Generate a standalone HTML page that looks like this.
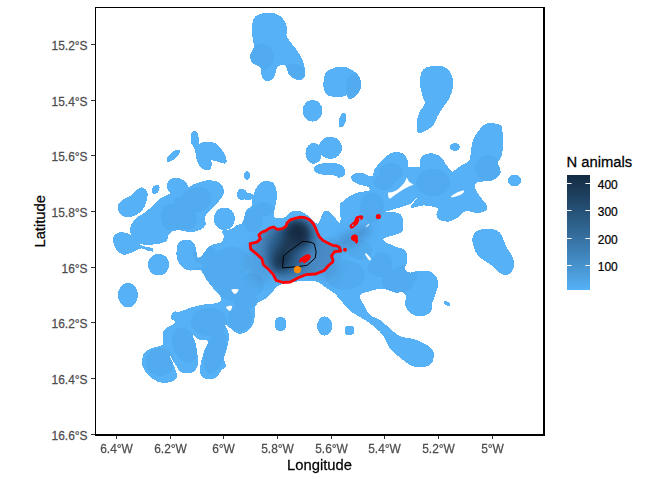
<!DOCTYPE html>
<html><head><meta charset="utf-8"><style>
html,body{margin:0;padding:0;background:#fff;overflow:hidden;}
svg{display:block;}
text{font-family:"Liberation Sans",sans-serif;}
</style></head><body>
<svg width="672" height="480" viewBox="0 0 672 480">
<defs>
<linearGradient id="lg" x1="0" y1="0" x2="0" y2="1"><stop offset="0" stop-color="#132B43"/><stop offset="0.125" stop-color="#1B3A57"/><stop offset="0.25" stop-color="#22496C"/><stop offset="0.375" stop-color="#2A5A82"/><stop offset="0.5" stop-color="#336A98"/><stop offset="0.625" stop-color="#3B7BAF"/><stop offset="0.75" stop-color="#448DC6"/><stop offset="0.875" stop-color="#4D9FDE"/><stop offset="1" stop-color="#56B1F7"/></linearGradient>
</defs>
<rect width="672" height="480" fill="#fff"/>
<clipPath id="blobclip"><path d="M268.8,12.5C272.7,12.5 277.2,13.8 280.0,15.8C282.8,17.8 284.3,21.0 285.5,24.5C286.7,28.0 285.8,33.7 287.0,37.0C288.2,40.3 290.5,41.8 292.5,44.5C294.5,47.2 296.9,50.1 298.8,53.2C300.6,56.4 302.7,59.7 303.8,63.2C304.8,66.8 305.2,71.8 305.0,74.5C304.8,77.2 304.0,78.7 302.5,79.5C301.0,80.3 298.5,80.3 296.2,79.5C294.0,78.7 290.4,76.6 288.8,74.5C287.1,72.4 287.3,68.6 286.2,67.0C285.2,65.4 284.0,65.0 282.5,65.0C281.0,65.0 278.8,65.4 277.5,67.0C276.2,68.6 275.8,72.4 275.0,74.5C274.2,76.6 274.2,78.5 272.5,79.5C270.8,80.5 266.9,81.6 265.0,80.8C263.1,79.9 262.1,76.8 261.2,74.5C260.4,72.2 261.5,68.9 260.0,67.0C258.5,65.1 254.2,65.1 252.5,63.2C250.8,61.4 249.8,58.5 250.0,55.8C250.2,53.0 253.3,50.1 253.8,47.0C254.2,43.9 252.8,40.8 252.5,37.0C252.2,33.2 251.4,28.0 252.0,24.5C252.6,21.0 253.5,17.8 256.2,15.8C259.0,13.8 264.8,12.5 268.8,12.5Z"/><path d="M340.0,67.0C336.7,67.5 330.2,68.7 327.5,70.8C324.8,72.8 324.4,76.4 323.8,79.5C323.1,82.6 322.9,86.8 323.8,89.5C324.6,92.2 326.5,94.6 328.8,95.8C331.0,96.9 334.6,96.7 337.5,96.5C340.4,96.3 344.4,94.0 346.2,94.5C348.1,95.0 347.1,99.3 348.8,99.5C350.4,99.7 354.2,97.8 356.2,95.8C358.3,93.7 360.6,89.9 361.2,87.0C361.9,84.1 361.0,80.8 360.0,78.2C359.0,75.8 357.1,73.8 355.0,72.0C352.9,70.2 350.0,68.6 347.5,67.8C345.0,66.9 343.3,66.5 340.0,67.0Z"/><path d="M435.4,66.0C437.8,65.8 438.8,65.6 440.7,66.0C442.6,66.4 445.1,66.9 446.9,68.3C448.7,69.7 450.4,72.0 451.4,74.5C452.4,77.0 453.1,80.2 453.1,83.3C453.1,86.4 452.3,90.1 451.4,93.1C450.5,96.0 449.3,98.5 447.8,101.0C446.3,103.5 444.3,105.4 442.5,108.1C440.7,110.8 438.8,114.0 437.2,117.0C435.6,120.0 435.2,123.3 432.8,125.8C430.4,128.3 425.5,131.0 423.0,132.0C420.5,133.0 418.7,133.6 417.7,132.0C416.7,130.4 416.5,125.7 416.8,122.3C417.1,118.9 418.2,114.8 419.5,111.7C420.8,108.6 424.4,106.5 424.8,103.7C425.2,100.9 422.9,98.2 422.1,94.8C421.3,91.4 419.9,87.0 419.8,83.3C419.7,79.6 420.1,75.3 421.2,72.7C422.4,70.1 424.2,68.5 426.6,67.4C429.0,66.3 433.0,66.2 435.4,66.0Z"/><path d="M316.9,165.0C318.5,164.3 320.7,163.4 323.8,163.1C326.8,162.8 332.1,162.8 335.0,163.1C337.9,163.4 339.7,164.2 341.2,165.0C342.8,165.8 343.8,166.6 344.4,168.1C345.0,169.6 345.3,172.3 345.0,173.8C344.7,175.2 343.6,176.3 342.5,176.9C341.4,177.5 339.4,177.7 338.1,177.5C336.9,177.3 337.2,176.0 335.0,175.6C332.8,175.2 328.0,175.4 325.0,175.0C322.0,174.6 318.7,173.8 316.9,173.1C315.1,172.4 314.4,171.5 314.0,170.6C313.6,169.7 313.9,168.4 314.4,167.5C314.9,166.6 315.3,165.7 316.9,165.0Z"/><path d="M194.5,131.0C195.4,131.1 196.8,131.5 197.5,132.7C198.2,133.9 198.5,136.0 198.7,138.1C198.9,140.2 198.7,145.2 198.7,145.2C198.7,145.2 199.6,143.1 201.1,142.6C202.6,142.1 205.3,141.9 207.6,142.0C209.9,142.1 212.7,142.0 214.8,142.9C216.9,143.8 218.5,145.8 220.1,147.6C221.7,149.4 223.2,151.4 224.3,153.6C225.4,155.8 226.6,159.0 226.7,160.7C226.8,162.4 226.3,163.5 224.9,163.7C223.5,163.9 220.6,162.5 218.3,161.9C216.0,161.3 211.2,160.1 211.2,160.1C211.2,160.1 212.1,163.8 211.8,165.5C211.5,167.2 210.7,169.5 209.4,170.2C208.1,170.9 205.7,170.4 204.0,169.6C202.3,168.8 200.6,167.4 199.3,165.5C198.0,163.6 197.0,160.9 196.3,158.3C195.6,155.7 195.9,152.5 195.1,150.0C194.3,147.5 192.2,145.9 191.5,143.5C190.8,141.1 191.1,137.6 191.2,135.7C191.3,133.8 191.5,132.9 192.1,132.1C192.7,131.3 193.6,130.9 194.5,131.0Z"/><path d="M142.5,187.5C144.2,188.0 146.9,190.0 147.5,192.5C148.1,195.0 147.1,199.6 146.2,202.5C145.4,205.4 144.4,207.8 142.5,210.0C140.6,212.2 137.9,214.3 135.0,215.5C132.1,216.7 127.7,217.5 125.0,217.0C122.3,216.5 119.9,214.5 118.8,212.5C117.6,210.5 117.4,207.1 118.0,205.0C118.6,202.9 120.5,201.5 122.5,200.0C124.5,198.5 127.5,198.0 130.0,196.2C132.5,194.5 135.4,191.0 137.5,189.5C139.6,188.0 140.8,187.0 142.5,187.5Z"/><path d="M144.7,245.0C147.8,245.3 153.3,244.6 156.9,244.0C160.5,243.4 164.3,243.0 166.3,241.3C168.3,239.6 167.2,235.6 169.1,233.8C171.0,231.9 174.2,230.3 177.5,230.0C180.8,229.7 185.0,232.0 188.8,232.0C192.5,232.0 197.2,231.3 200.0,230.0C202.8,228.7 204.9,226.6 205.7,224.4C206.5,222.2 203.5,219.7 204.8,216.9C206.0,214.1 210.2,210.9 213.2,207.5C216.2,204.1 220.9,199.4 222.6,196.2C224.3,193.1 224.1,191.1 223.5,188.8C222.9,186.4 221.5,183.6 218.8,182.2C216.2,180.8 211.7,180.0 207.6,180.3C203.5,180.6 197.5,182.9 194.4,184.0C191.3,185.1 190.3,187.4 188.8,186.9C187.2,186.4 187.2,182.8 185.0,181.2C182.8,179.7 178.4,177.5 175.6,177.5C172.8,177.5 169.6,179.4 168.2,181.2C166.8,183.1 166.9,186.7 167.2,188.8C167.5,190.8 171.1,191.8 170.0,193.4C168.9,195.0 163.4,196.1 160.6,198.1C157.8,200.1 155.9,203.1 153.1,205.6C150.3,208.1 146.9,210.8 143.8,213.1C140.6,215.4 136.6,217.2 134.4,219.7C132.2,222.2 130.6,225.4 130.3,228.1C130.0,230.8 131.2,233.2 132.5,235.6C133.8,237.9 136.1,240.6 138.1,242.2C140.1,243.8 141.6,244.7 144.7,245.0Z"/><path d="M114.2,235.8C114.9,234.5 115.9,233.8 117.3,233.2C118.7,232.6 120.6,232.1 122.5,232.2C124.4,232.3 127.4,233.2 128.8,233.8C130.1,234.3 130.5,236.2 130.8,235.3C131.1,234.4 129.6,230.1 130.3,228.5C131.0,226.9 133.5,223.8 135.0,226.0C136.5,228.2 138.0,238.6 139.2,241.9C140.4,245.2 140.8,244.8 142.3,245.7C143.9,246.6 146.8,246.9 148.5,247.3C150.2,247.7 152.0,247.6 152.7,248.3C153.4,249.0 153.7,251.2 152.7,251.5C151.7,251.8 148.4,250.9 146.5,250.4C144.6,249.9 143.2,248.2 141.2,248.3C139.3,248.4 137.4,250.0 135.0,251.0C132.6,252.0 128.9,253.9 126.7,254.4C124.5,254.9 123.2,254.8 121.5,254.0C119.8,253.2 117.7,251.6 116.2,249.4C114.8,247.2 113.4,243.3 113.1,241.0C112.8,238.7 113.5,237.1 114.2,235.8Z"/><path d="M177.1,246.4C177.7,243.4 179.0,242.2 180.7,241.1C182.3,240.0 184.9,239.4 187.0,239.6C189.1,239.8 191.7,240.6 193.2,242.0C194.7,243.4 195.2,245.7 195.9,248.2C196.7,250.7 196.8,255.8 197.7,257.1C198.6,258.4 199.6,257.7 201.2,256.2C202.9,254.8 205.6,250.1 207.5,248.2C209.4,246.3 210.5,245.6 212.9,244.6C215.3,243.6 220.0,243.5 221.8,242.0C223.6,240.5 223.6,237.5 223.6,235.7C223.6,233.9 221.0,232.2 221.8,231.2C222.6,230.2 226.4,230.3 228.3,229.7C230.2,229.1 232.0,228.6 233.4,227.8C234.8,227.0 235.4,225.6 236.7,225.0C238.0,224.4 240.2,224.9 241.4,224.0C242.6,223.1 243.1,221.3 243.8,219.4C244.4,217.5 244.6,214.5 245.2,212.8C245.8,211.1 246.4,210.1 247.5,209.0C248.6,207.9 250.8,207.8 251.6,206.1C252.4,204.4 251.6,201.7 252.3,198.7C253.0,195.7 254.5,191.0 256.0,188.3C257.5,185.6 259.6,183.6 261.2,182.3C262.9,181.1 263.8,180.8 265.7,180.8C267.6,180.8 270.8,181.3 272.4,182.3C274.0,183.3 274.6,184.8 275.4,186.8C276.1,188.8 276.8,191.5 276.9,194.2C277.0,196.9 276.5,200.7 276.1,203.2C275.7,205.7 274.8,206.7 274.6,209.1C274.4,211.5 273.2,216.2 274.8,217.6C276.4,219.0 281.5,218.6 284.3,217.6C287.1,216.6 288.8,212.8 291.4,211.7C294.0,210.6 297.4,210.6 299.8,211.0C302.2,211.4 303.9,212.9 305.7,214.0C307.5,215.1 308.5,216.0 310.5,217.6C312.5,219.2 315.4,224.5 317.6,223.6C319.8,222.7 321.8,214.4 323.6,212.3C325.4,210.2 326.5,210.2 328.3,211.0C330.1,211.8 332.3,215.1 334.3,217.0C336.3,218.9 339.2,224.5 340.2,222.4C341.2,220.3 339.8,208.0 340.2,204.5C340.6,201.0 341.5,202.6 342.6,201.5C343.7,200.4 344.4,199.5 346.8,198.0C349.2,196.5 353.5,193.9 357.2,192.7C360.9,191.4 367.4,191.5 369.1,190.5C370.8,189.5 369.6,187.9 367.6,186.8C365.6,185.7 359.8,184.9 357.2,183.8C354.6,182.7 353.0,181.3 352.0,180.1C351.0,178.9 350.6,177.6 351.2,176.4C351.9,175.2 353.7,173.6 355.7,173.1C357.7,172.6 360.5,172.8 363.2,173.4C365.9,174.0 370.2,177.0 372.1,176.4C374.0,175.8 373.0,172.0 374.3,169.7C375.6,167.4 377.9,164.7 380.0,162.4C382.1,160.1 384.5,157.4 386.7,155.7C388.9,154.0 391.2,152.9 393.4,152.4C395.6,151.9 398.0,151.9 400.0,152.4C402.0,152.9 404.0,154.0 405.4,155.7C406.8,157.4 407.5,160.5 408.1,162.4C408.7,164.3 407.7,166.3 408.8,167.1C409.9,167.9 412.9,167.2 414.8,167.1C416.7,167.0 419.3,167.6 420.2,166.4C421.1,165.2 419.8,161.5 420.2,159.7C420.6,157.9 421.2,156.8 422.8,155.7C424.4,154.6 427.3,153.5 429.5,153.3C431.7,153.1 434.2,153.7 436.2,154.4C438.2,155.1 440.0,156.1 441.6,157.7C443.2,159.2 444.3,161.8 445.6,163.7C446.9,165.6 448.5,167.8 449.6,169.1C450.7,170.4 451.0,172.0 452.3,171.8C453.6,171.6 455.6,169.2 457.6,167.8C459.6,166.5 462.3,165.0 464.3,163.7C466.3,162.4 468.4,162.2 469.5,160.0C470.6,157.8 470.5,153.7 471.0,150.7C471.5,147.7 471.5,144.8 472.5,141.8C473.5,138.8 475.0,135.8 477.0,132.9C479.0,130.1 482.2,126.3 484.4,124.7C486.6,123.1 487.8,123.2 490.4,123.2C493.0,123.2 498.0,123.6 500.0,124.7C502.0,125.8 501.8,125.8 502.3,129.9C502.8,134.0 503.4,144.2 503.0,149.2C502.6,154.1 500.9,157.4 500.0,159.6C499.1,161.8 497.7,160.4 497.8,162.6C497.9,164.8 501.2,169.6 500.5,172.5C499.8,175.4 495.9,178.5 493.5,180.0C491.1,181.5 488.7,180.8 486.0,181.2C483.3,181.7 479.1,181.5 477.2,182.5C475.4,183.5 474.3,185.2 474.8,187.5C475.2,189.8 477.9,193.5 479.8,196.2C481.6,199.0 484.8,201.7 486.0,203.8C487.2,205.8 487.8,207.4 487.2,208.8C486.7,210.1 484.8,211.2 482.9,211.9C481.0,212.6 478.5,213.3 475.7,213.1C472.9,212.9 469.0,210.1 466.2,210.7C463.4,211.3 461.8,214.9 459.0,216.7C456.2,218.5 452.7,220.8 449.5,221.4C446.3,222.0 442.2,221.4 440.0,220.2C437.8,219.0 436.8,216.3 436.4,214.3C436.0,212.3 439.7,209.8 437.6,208.3C435.5,206.8 428.0,205.5 423.8,205.4C419.5,205.3 414.1,208.1 412.1,208.0C410.1,207.9 411.5,204.8 411.5,204.8C411.5,204.8 419.3,196.0 419.3,196.0C419.3,196.0 409.5,204.5 409.5,204.5C409.5,204.5 401.8,206.8 397.9,208.0C394.0,209.2 386.2,211.6 386.2,211.6C386.2,211.6 397.9,211.5 400.7,214.3C403.5,217.1 403.2,225.4 403.0,228.6C402.8,231.8 402.9,231.5 399.5,233.3C396.1,235.1 383.7,237.1 382.9,239.3C382.1,241.5 391.1,244.6 394.8,246.4C398.5,248.2 402.9,247.7 405.0,250.0C407.1,252.3 407.5,256.9 407.5,260.0C407.5,263.1 404.6,266.7 405.0,268.8C405.4,270.8 407.5,272.2 410.0,272.5C412.5,272.8 416.2,270.5 420.0,270.5C423.8,270.5 429.5,270.7 432.5,272.5C435.5,274.3 437.4,277.9 438.0,281.2C438.6,284.6 437.2,289.0 436.2,292.5C435.3,296.0 433.3,299.4 432.5,302.5C431.7,305.6 432.9,309.0 431.2,311.2C429.6,313.5 425.8,315.8 422.5,316.2C419.2,316.7 414.2,315.6 411.2,313.8C408.3,311.9 405.8,307.9 405.0,305.0C404.2,302.1 406.7,298.3 406.2,296.2C405.8,294.2 404.4,293.1 402.5,292.5C400.6,291.9 398.3,293.1 395.0,292.5C391.7,291.9 386.7,289.0 382.5,288.8C378.3,288.5 373.8,290.2 370.0,291.2C366.2,292.3 361.0,292.7 360.0,295.0C359.0,297.3 362.1,301.7 363.8,305.0C365.4,308.3 367.3,312.5 370.0,315.0C372.7,317.5 376.9,317.9 380.0,320.0C383.1,322.1 385.4,324.8 388.8,327.5C392.1,330.2 396.0,334.4 400.0,336.2C404.0,338.1 408.3,337.5 412.5,338.8C416.7,340.0 421.7,341.9 425.0,343.8C428.3,345.6 431.0,347.7 432.5,350.0C434.0,352.3 434.2,355.0 433.8,357.5C433.3,360.0 432.3,363.3 430.0,365.0C427.7,366.7 423.3,367.5 420.0,367.5C416.7,367.5 413.3,366.7 410.0,365.0C406.7,363.3 403.3,360.2 400.0,357.5C396.7,354.8 392.7,352.3 390.0,348.8C387.3,345.2 386.2,339.8 383.8,336.2C381.2,332.7 378.1,330.2 375.0,327.5C371.9,324.8 368.8,322.5 365.0,320.0C361.2,317.5 356.2,315.3 352.5,312.5C348.8,309.7 345.9,306.1 343.0,303.0C340.1,299.9 337.6,296.1 335.0,293.8C332.4,291.4 330.2,290.6 327.5,288.8C324.8,286.9 321.2,283.8 318.8,282.5C316.2,281.2 315.6,281.5 312.5,281.2C309.4,281.0 305.0,280.8 300.0,281.2C295.0,281.7 286.7,282.5 282.5,283.8C278.3,285.0 277.5,286.5 275.0,288.8C272.5,291.0 270.0,295.4 267.5,297.5C265.0,299.6 261.9,300.0 260.0,301.2C258.1,302.5 257.1,303.7 256.2,305.0C255.4,306.3 255.4,306.1 255.0,309.0C254.6,311.9 255.0,318.8 253.8,322.5C252.5,326.2 249.8,329.4 247.5,331.2C245.2,333.1 242.1,333.6 240.0,333.8C237.9,333.9 237.5,333.6 235.0,332.0C232.5,330.4 226.0,324.1 225.0,324.4C224.0,324.7 228.3,330.4 228.8,333.8C229.3,337.2 228.7,340.9 227.9,345.0C227.1,349.1 224.4,354.6 224.1,358.2C223.8,361.8 226.5,364.6 226.0,366.6C225.5,368.6 223.0,368.5 221.3,370.4C219.6,372.3 218.2,376.5 215.7,377.9C213.2,379.3 208.8,379.3 206.3,378.8C203.8,378.3 201.6,377.5 200.7,375.0C199.8,372.5 200.1,367.9 200.7,363.8C201.3,359.8 203.2,354.4 204.4,350.7C205.7,346.9 209.1,343.2 208.2,341.3C207.3,339.4 201.3,340.3 198.8,339.4C196.3,338.4 193.7,334.7 193.2,335.6C192.7,336.5 195.2,341.2 196.0,345.0C196.8,348.8 197.7,354.7 197.9,358.2C198.2,361.7 198.2,363.8 197.5,366.0C196.8,368.2 195.3,370.3 194.0,371.5C192.7,372.7 191.6,373.1 189.4,373.2C187.2,373.3 183.4,373.7 181.0,372.2C178.6,370.7 176.9,366.8 175.0,364.0C173.1,361.2 169.9,355.0 169.7,355.3C169.5,355.6 172.8,362.7 174.0,366.0C175.2,369.3 177.0,372.7 177.2,375.0C177.4,377.3 176.9,378.4 175.3,379.7C173.7,381.0 170.8,382.3 167.8,382.6C164.8,382.9 160.8,382.9 157.5,381.6C154.2,380.3 150.6,377.6 148.1,375.0C145.6,372.4 143.3,369.1 142.5,365.7C141.7,362.3 142.2,357.2 143.4,354.4C144.7,351.6 147.3,350.2 150.0,348.8C152.7,347.4 157.2,346.9 159.4,346.0C161.6,345.1 162.5,345.6 163.1,343.2C163.7,340.8 162.3,334.6 163.1,331.9C163.9,329.2 165.8,328.8 167.8,327.2C169.8,325.6 174.7,323.9 175.3,322.5C175.9,321.1 172.2,320.1 171.6,318.8C171.0,317.6 171.1,316.2 171.6,315.0C172.1,313.8 173.0,312.2 174.4,311.6C175.8,311.0 177.2,312.3 180.0,311.6C182.8,310.9 187.6,308.6 191.3,307.5C195.1,306.4 198.1,305.5 202.5,304.7C206.9,303.9 214.4,304.0 217.5,302.8C220.6,301.6 221.8,300.0 221.0,297.5C220.2,295.0 215.5,291.1 213.0,288.0C210.5,284.9 207.9,281.8 206.0,279.0C204.1,276.2 203.0,272.6 201.5,271.0C200.0,269.4 198.8,269.7 196.8,269.6C194.8,269.5 191.8,270.8 189.6,270.5C187.4,270.2 185.5,269.8 183.4,267.9C181.3,266.0 178.2,262.5 177.1,258.9C176.0,255.3 176.5,249.4 177.1,246.4Z"/><path d="M483.5,228.8C487.0,228.3 492.9,228.8 496.0,230.0C499.1,231.2 500.6,233.5 502.2,236.2C503.9,239.0 504.3,242.9 506.0,246.2C507.7,249.6 510.9,253.1 512.2,256.2C513.6,259.4 514.7,262.1 514.2,265.0C513.8,267.9 512.0,272.3 509.8,273.8C507.5,275.2 504.1,275.2 501.0,273.8C497.9,272.3 494.5,267.7 491.0,265.0C487.5,262.3 482.5,260.0 479.8,257.5C477.0,255.0 476.0,252.9 474.8,250.0C473.5,247.1 472.2,242.9 472.2,240.0C472.2,237.1 472.9,234.4 474.8,232.5C476.6,230.6 480.0,229.2 483.5,228.8Z"/><ellipse cx="312.5" cy="110.75" rx="10" ry="10.75"/><ellipse cx="342.4" cy="120" rx="3.5" ry="7.5" transform="rotate(15 342.4 120)"/><ellipse cx="454.9" cy="147" rx="5" ry="3.8"/><ellipse cx="514.4" cy="180.4" rx="6.6" ry="5.9"/><ellipse cx="313.6" cy="153.4" rx="8.2" ry="10.4"/><ellipse cx="330.3" cy="147.8" rx="11.6" ry="11"/><ellipse cx="173.3" cy="155.7" rx="8.5" ry="3.3" transform="rotate(-40 173.3 155.7)"/><ellipse cx="247" cy="175.5" rx="3" ry="4.2"/><ellipse cx="155.6" cy="189.4" rx="3.5" ry="5.2" transform="rotate(30 155.6 189.4)"/><ellipse cx="158.6" cy="264.6" rx="10.6" ry="10.9"/><ellipse cx="128" cy="295.25" rx="10" ry="12.25"/><ellipse cx="224.4" cy="218.75" rx="10.6" ry="11.25"/><ellipse cx="242" cy="194.5" rx="5.2" ry="5.8"/><ellipse cx="248" cy="196.5" rx="6" ry="3.5"/><ellipse cx="324.75" cy="326" rx="7.75" ry="9.6"/><ellipse cx="447" cy="303.5" rx="3.5" ry="2" transform="rotate(30 447 303.5)"/><ellipse cx="269.5" cy="30" rx="17.5" ry="17.5"/><ellipse cx="339.5" cy="82" rx="16" ry="15"/><rect x="275.2" y="317" width="10.6" height="14" rx="4.5"/><rect x="344.6" y="325.8" width="9.7" height="9" rx="3.5"/></clipPath>
<g fill="#56B1F7" shape-rendering="crispEdges"><path d="M268.8,12.5C272.7,12.5 277.2,13.8 280.0,15.8C282.8,17.8 284.3,21.0 285.5,24.5C286.7,28.0 285.8,33.7 287.0,37.0C288.2,40.3 290.5,41.8 292.5,44.5C294.5,47.2 296.9,50.1 298.8,53.2C300.6,56.4 302.7,59.7 303.8,63.2C304.8,66.8 305.2,71.8 305.0,74.5C304.8,77.2 304.0,78.7 302.5,79.5C301.0,80.3 298.5,80.3 296.2,79.5C294.0,78.7 290.4,76.6 288.8,74.5C287.1,72.4 287.3,68.6 286.2,67.0C285.2,65.4 284.0,65.0 282.5,65.0C281.0,65.0 278.8,65.4 277.5,67.0C276.2,68.6 275.8,72.4 275.0,74.5C274.2,76.6 274.2,78.5 272.5,79.5C270.8,80.5 266.9,81.6 265.0,80.8C263.1,79.9 262.1,76.8 261.2,74.5C260.4,72.2 261.5,68.9 260.0,67.0C258.5,65.1 254.2,65.1 252.5,63.2C250.8,61.4 249.8,58.5 250.0,55.8C250.2,53.0 253.3,50.1 253.8,47.0C254.2,43.9 252.8,40.8 252.5,37.0C252.2,33.2 251.4,28.0 252.0,24.5C252.6,21.0 253.5,17.8 256.2,15.8C259.0,13.8 264.8,12.5 268.8,12.5Z"/><path d="M340.0,67.0C336.7,67.5 330.2,68.7 327.5,70.8C324.8,72.8 324.4,76.4 323.8,79.5C323.1,82.6 322.9,86.8 323.8,89.5C324.6,92.2 326.5,94.6 328.8,95.8C331.0,96.9 334.6,96.7 337.5,96.5C340.4,96.3 344.4,94.0 346.2,94.5C348.1,95.0 347.1,99.3 348.8,99.5C350.4,99.7 354.2,97.8 356.2,95.8C358.3,93.7 360.6,89.9 361.2,87.0C361.9,84.1 361.0,80.8 360.0,78.2C359.0,75.8 357.1,73.8 355.0,72.0C352.9,70.2 350.0,68.6 347.5,67.8C345.0,66.9 343.3,66.5 340.0,67.0Z"/><path d="M435.4,66.0C437.8,65.8 438.8,65.6 440.7,66.0C442.6,66.4 445.1,66.9 446.9,68.3C448.7,69.7 450.4,72.0 451.4,74.5C452.4,77.0 453.1,80.2 453.1,83.3C453.1,86.4 452.3,90.1 451.4,93.1C450.5,96.0 449.3,98.5 447.8,101.0C446.3,103.5 444.3,105.4 442.5,108.1C440.7,110.8 438.8,114.0 437.2,117.0C435.6,120.0 435.2,123.3 432.8,125.8C430.4,128.3 425.5,131.0 423.0,132.0C420.5,133.0 418.7,133.6 417.7,132.0C416.7,130.4 416.5,125.7 416.8,122.3C417.1,118.9 418.2,114.8 419.5,111.7C420.8,108.6 424.4,106.5 424.8,103.7C425.2,100.9 422.9,98.2 422.1,94.8C421.3,91.4 419.9,87.0 419.8,83.3C419.7,79.6 420.1,75.3 421.2,72.7C422.4,70.1 424.2,68.5 426.6,67.4C429.0,66.3 433.0,66.2 435.4,66.0Z"/><path d="M316.9,165.0C318.5,164.3 320.7,163.4 323.8,163.1C326.8,162.8 332.1,162.8 335.0,163.1C337.9,163.4 339.7,164.2 341.2,165.0C342.8,165.8 343.8,166.6 344.4,168.1C345.0,169.6 345.3,172.3 345.0,173.8C344.7,175.2 343.6,176.3 342.5,176.9C341.4,177.5 339.4,177.7 338.1,177.5C336.9,177.3 337.2,176.0 335.0,175.6C332.8,175.2 328.0,175.4 325.0,175.0C322.0,174.6 318.7,173.8 316.9,173.1C315.1,172.4 314.4,171.5 314.0,170.6C313.6,169.7 313.9,168.4 314.4,167.5C314.9,166.6 315.3,165.7 316.9,165.0Z"/><path d="M194.5,131.0C195.4,131.1 196.8,131.5 197.5,132.7C198.2,133.9 198.5,136.0 198.7,138.1C198.9,140.2 198.7,145.2 198.7,145.2C198.7,145.2 199.6,143.1 201.1,142.6C202.6,142.1 205.3,141.9 207.6,142.0C209.9,142.1 212.7,142.0 214.8,142.9C216.9,143.8 218.5,145.8 220.1,147.6C221.7,149.4 223.2,151.4 224.3,153.6C225.4,155.8 226.6,159.0 226.7,160.7C226.8,162.4 226.3,163.5 224.9,163.7C223.5,163.9 220.6,162.5 218.3,161.9C216.0,161.3 211.2,160.1 211.2,160.1C211.2,160.1 212.1,163.8 211.8,165.5C211.5,167.2 210.7,169.5 209.4,170.2C208.1,170.9 205.7,170.4 204.0,169.6C202.3,168.8 200.6,167.4 199.3,165.5C198.0,163.6 197.0,160.9 196.3,158.3C195.6,155.7 195.9,152.5 195.1,150.0C194.3,147.5 192.2,145.9 191.5,143.5C190.8,141.1 191.1,137.6 191.2,135.7C191.3,133.8 191.5,132.9 192.1,132.1C192.7,131.3 193.6,130.9 194.5,131.0Z"/><path d="M142.5,187.5C144.2,188.0 146.9,190.0 147.5,192.5C148.1,195.0 147.1,199.6 146.2,202.5C145.4,205.4 144.4,207.8 142.5,210.0C140.6,212.2 137.9,214.3 135.0,215.5C132.1,216.7 127.7,217.5 125.0,217.0C122.3,216.5 119.9,214.5 118.8,212.5C117.6,210.5 117.4,207.1 118.0,205.0C118.6,202.9 120.5,201.5 122.5,200.0C124.5,198.5 127.5,198.0 130.0,196.2C132.5,194.5 135.4,191.0 137.5,189.5C139.6,188.0 140.8,187.0 142.5,187.5Z"/><path d="M144.7,245.0C147.8,245.3 153.3,244.6 156.9,244.0C160.5,243.4 164.3,243.0 166.3,241.3C168.3,239.6 167.2,235.6 169.1,233.8C171.0,231.9 174.2,230.3 177.5,230.0C180.8,229.7 185.0,232.0 188.8,232.0C192.5,232.0 197.2,231.3 200.0,230.0C202.8,228.7 204.9,226.6 205.7,224.4C206.5,222.2 203.5,219.7 204.8,216.9C206.0,214.1 210.2,210.9 213.2,207.5C216.2,204.1 220.9,199.4 222.6,196.2C224.3,193.1 224.1,191.1 223.5,188.8C222.9,186.4 221.5,183.6 218.8,182.2C216.2,180.8 211.7,180.0 207.6,180.3C203.5,180.6 197.5,182.9 194.4,184.0C191.3,185.1 190.3,187.4 188.8,186.9C187.2,186.4 187.2,182.8 185.0,181.2C182.8,179.7 178.4,177.5 175.6,177.5C172.8,177.5 169.6,179.4 168.2,181.2C166.8,183.1 166.9,186.7 167.2,188.8C167.5,190.8 171.1,191.8 170.0,193.4C168.9,195.0 163.4,196.1 160.6,198.1C157.8,200.1 155.9,203.1 153.1,205.6C150.3,208.1 146.9,210.8 143.8,213.1C140.6,215.4 136.6,217.2 134.4,219.7C132.2,222.2 130.6,225.4 130.3,228.1C130.0,230.8 131.2,233.2 132.5,235.6C133.8,237.9 136.1,240.6 138.1,242.2C140.1,243.8 141.6,244.7 144.7,245.0Z"/><path d="M114.2,235.8C114.9,234.5 115.9,233.8 117.3,233.2C118.7,232.6 120.6,232.1 122.5,232.2C124.4,232.3 127.4,233.2 128.8,233.8C130.1,234.3 130.5,236.2 130.8,235.3C131.1,234.4 129.6,230.1 130.3,228.5C131.0,226.9 133.5,223.8 135.0,226.0C136.5,228.2 138.0,238.6 139.2,241.9C140.4,245.2 140.8,244.8 142.3,245.7C143.9,246.6 146.8,246.9 148.5,247.3C150.2,247.7 152.0,247.6 152.7,248.3C153.4,249.0 153.7,251.2 152.7,251.5C151.7,251.8 148.4,250.9 146.5,250.4C144.6,249.9 143.2,248.2 141.2,248.3C139.3,248.4 137.4,250.0 135.0,251.0C132.6,252.0 128.9,253.9 126.7,254.4C124.5,254.9 123.2,254.8 121.5,254.0C119.8,253.2 117.7,251.6 116.2,249.4C114.8,247.2 113.4,243.3 113.1,241.0C112.8,238.7 113.5,237.1 114.2,235.8Z"/><path d="M177.1,246.4C177.7,243.4 179.0,242.2 180.7,241.1C182.3,240.0 184.9,239.4 187.0,239.6C189.1,239.8 191.7,240.6 193.2,242.0C194.7,243.4 195.2,245.7 195.9,248.2C196.7,250.7 196.8,255.8 197.7,257.1C198.6,258.4 199.6,257.7 201.2,256.2C202.9,254.8 205.6,250.1 207.5,248.2C209.4,246.3 210.5,245.6 212.9,244.6C215.3,243.6 220.0,243.5 221.8,242.0C223.6,240.5 223.6,237.5 223.6,235.7C223.6,233.9 221.0,232.2 221.8,231.2C222.6,230.2 226.4,230.3 228.3,229.7C230.2,229.1 232.0,228.6 233.4,227.8C234.8,227.0 235.4,225.6 236.7,225.0C238.0,224.4 240.2,224.9 241.4,224.0C242.6,223.1 243.1,221.3 243.8,219.4C244.4,217.5 244.6,214.5 245.2,212.8C245.8,211.1 246.4,210.1 247.5,209.0C248.6,207.9 250.8,207.8 251.6,206.1C252.4,204.4 251.6,201.7 252.3,198.7C253.0,195.7 254.5,191.0 256.0,188.3C257.5,185.6 259.6,183.6 261.2,182.3C262.9,181.1 263.8,180.8 265.7,180.8C267.6,180.8 270.8,181.3 272.4,182.3C274.0,183.3 274.6,184.8 275.4,186.8C276.1,188.8 276.8,191.5 276.9,194.2C277.0,196.9 276.5,200.7 276.1,203.2C275.7,205.7 274.8,206.7 274.6,209.1C274.4,211.5 273.2,216.2 274.8,217.6C276.4,219.0 281.5,218.6 284.3,217.6C287.1,216.6 288.8,212.8 291.4,211.7C294.0,210.6 297.4,210.6 299.8,211.0C302.2,211.4 303.9,212.9 305.7,214.0C307.5,215.1 308.5,216.0 310.5,217.6C312.5,219.2 315.4,224.5 317.6,223.6C319.8,222.7 321.8,214.4 323.6,212.3C325.4,210.2 326.5,210.2 328.3,211.0C330.1,211.8 332.3,215.1 334.3,217.0C336.3,218.9 339.2,224.5 340.2,222.4C341.2,220.3 339.8,208.0 340.2,204.5C340.6,201.0 341.5,202.6 342.6,201.5C343.7,200.4 344.4,199.5 346.8,198.0C349.2,196.5 353.5,193.9 357.2,192.7C360.9,191.4 367.4,191.5 369.1,190.5C370.8,189.5 369.6,187.9 367.6,186.8C365.6,185.7 359.8,184.9 357.2,183.8C354.6,182.7 353.0,181.3 352.0,180.1C351.0,178.9 350.6,177.6 351.2,176.4C351.9,175.2 353.7,173.6 355.7,173.1C357.7,172.6 360.5,172.8 363.2,173.4C365.9,174.0 370.2,177.0 372.1,176.4C374.0,175.8 373.0,172.0 374.3,169.7C375.6,167.4 377.9,164.7 380.0,162.4C382.1,160.1 384.5,157.4 386.7,155.7C388.9,154.0 391.2,152.9 393.4,152.4C395.6,151.9 398.0,151.9 400.0,152.4C402.0,152.9 404.0,154.0 405.4,155.7C406.8,157.4 407.5,160.5 408.1,162.4C408.7,164.3 407.7,166.3 408.8,167.1C409.9,167.9 412.9,167.2 414.8,167.1C416.7,167.0 419.3,167.6 420.2,166.4C421.1,165.2 419.8,161.5 420.2,159.7C420.6,157.9 421.2,156.8 422.8,155.7C424.4,154.6 427.3,153.5 429.5,153.3C431.7,153.1 434.2,153.7 436.2,154.4C438.2,155.1 440.0,156.1 441.6,157.7C443.2,159.2 444.3,161.8 445.6,163.7C446.9,165.6 448.5,167.8 449.6,169.1C450.7,170.4 451.0,172.0 452.3,171.8C453.6,171.6 455.6,169.2 457.6,167.8C459.6,166.5 462.3,165.0 464.3,163.7C466.3,162.4 468.4,162.2 469.5,160.0C470.6,157.8 470.5,153.7 471.0,150.7C471.5,147.7 471.5,144.8 472.5,141.8C473.5,138.8 475.0,135.8 477.0,132.9C479.0,130.1 482.2,126.3 484.4,124.7C486.6,123.1 487.8,123.2 490.4,123.2C493.0,123.2 498.0,123.6 500.0,124.7C502.0,125.8 501.8,125.8 502.3,129.9C502.8,134.0 503.4,144.2 503.0,149.2C502.6,154.1 500.9,157.4 500.0,159.6C499.1,161.8 497.7,160.4 497.8,162.6C497.9,164.8 501.2,169.6 500.5,172.5C499.8,175.4 495.9,178.5 493.5,180.0C491.1,181.5 488.7,180.8 486.0,181.2C483.3,181.7 479.1,181.5 477.2,182.5C475.4,183.5 474.3,185.2 474.8,187.5C475.2,189.8 477.9,193.5 479.8,196.2C481.6,199.0 484.8,201.7 486.0,203.8C487.2,205.8 487.8,207.4 487.2,208.8C486.7,210.1 484.8,211.2 482.9,211.9C481.0,212.6 478.5,213.3 475.7,213.1C472.9,212.9 469.0,210.1 466.2,210.7C463.4,211.3 461.8,214.9 459.0,216.7C456.2,218.5 452.7,220.8 449.5,221.4C446.3,222.0 442.2,221.4 440.0,220.2C437.8,219.0 436.8,216.3 436.4,214.3C436.0,212.3 439.7,209.8 437.6,208.3C435.5,206.8 428.0,205.5 423.8,205.4C419.5,205.3 414.1,208.1 412.1,208.0C410.1,207.9 411.5,204.8 411.5,204.8C411.5,204.8 419.3,196.0 419.3,196.0C419.3,196.0 409.5,204.5 409.5,204.5C409.5,204.5 401.8,206.8 397.9,208.0C394.0,209.2 386.2,211.6 386.2,211.6C386.2,211.6 397.9,211.5 400.7,214.3C403.5,217.1 403.2,225.4 403.0,228.6C402.8,231.8 402.9,231.5 399.5,233.3C396.1,235.1 383.7,237.1 382.9,239.3C382.1,241.5 391.1,244.6 394.8,246.4C398.5,248.2 402.9,247.7 405.0,250.0C407.1,252.3 407.5,256.9 407.5,260.0C407.5,263.1 404.6,266.7 405.0,268.8C405.4,270.8 407.5,272.2 410.0,272.5C412.5,272.8 416.2,270.5 420.0,270.5C423.8,270.5 429.5,270.7 432.5,272.5C435.5,274.3 437.4,277.9 438.0,281.2C438.6,284.6 437.2,289.0 436.2,292.5C435.3,296.0 433.3,299.4 432.5,302.5C431.7,305.6 432.9,309.0 431.2,311.2C429.6,313.5 425.8,315.8 422.5,316.2C419.2,316.7 414.2,315.6 411.2,313.8C408.3,311.9 405.8,307.9 405.0,305.0C404.2,302.1 406.7,298.3 406.2,296.2C405.8,294.2 404.4,293.1 402.5,292.5C400.6,291.9 398.3,293.1 395.0,292.5C391.7,291.9 386.7,289.0 382.5,288.8C378.3,288.5 373.8,290.2 370.0,291.2C366.2,292.3 361.0,292.7 360.0,295.0C359.0,297.3 362.1,301.7 363.8,305.0C365.4,308.3 367.3,312.5 370.0,315.0C372.7,317.5 376.9,317.9 380.0,320.0C383.1,322.1 385.4,324.8 388.8,327.5C392.1,330.2 396.0,334.4 400.0,336.2C404.0,338.1 408.3,337.5 412.5,338.8C416.7,340.0 421.7,341.9 425.0,343.8C428.3,345.6 431.0,347.7 432.5,350.0C434.0,352.3 434.2,355.0 433.8,357.5C433.3,360.0 432.3,363.3 430.0,365.0C427.7,366.7 423.3,367.5 420.0,367.5C416.7,367.5 413.3,366.7 410.0,365.0C406.7,363.3 403.3,360.2 400.0,357.5C396.7,354.8 392.7,352.3 390.0,348.8C387.3,345.2 386.2,339.8 383.8,336.2C381.2,332.7 378.1,330.2 375.0,327.5C371.9,324.8 368.8,322.5 365.0,320.0C361.2,317.5 356.2,315.3 352.5,312.5C348.8,309.7 345.9,306.1 343.0,303.0C340.1,299.9 337.6,296.1 335.0,293.8C332.4,291.4 330.2,290.6 327.5,288.8C324.8,286.9 321.2,283.8 318.8,282.5C316.2,281.2 315.6,281.5 312.5,281.2C309.4,281.0 305.0,280.8 300.0,281.2C295.0,281.7 286.7,282.5 282.5,283.8C278.3,285.0 277.5,286.5 275.0,288.8C272.5,291.0 270.0,295.4 267.5,297.5C265.0,299.6 261.9,300.0 260.0,301.2C258.1,302.5 257.1,303.7 256.2,305.0C255.4,306.3 255.4,306.1 255.0,309.0C254.6,311.9 255.0,318.8 253.8,322.5C252.5,326.2 249.8,329.4 247.5,331.2C245.2,333.1 242.1,333.6 240.0,333.8C237.9,333.9 237.5,333.6 235.0,332.0C232.5,330.4 226.0,324.1 225.0,324.4C224.0,324.7 228.3,330.4 228.8,333.8C229.3,337.2 228.7,340.9 227.9,345.0C227.1,349.1 224.4,354.6 224.1,358.2C223.8,361.8 226.5,364.6 226.0,366.6C225.5,368.6 223.0,368.5 221.3,370.4C219.6,372.3 218.2,376.5 215.7,377.9C213.2,379.3 208.8,379.3 206.3,378.8C203.8,378.3 201.6,377.5 200.7,375.0C199.8,372.5 200.1,367.9 200.7,363.8C201.3,359.8 203.2,354.4 204.4,350.7C205.7,346.9 209.1,343.2 208.2,341.3C207.3,339.4 201.3,340.3 198.8,339.4C196.3,338.4 193.7,334.7 193.2,335.6C192.7,336.5 195.2,341.2 196.0,345.0C196.8,348.8 197.7,354.7 197.9,358.2C198.2,361.7 198.2,363.8 197.5,366.0C196.8,368.2 195.3,370.3 194.0,371.5C192.7,372.7 191.6,373.1 189.4,373.2C187.2,373.3 183.4,373.7 181.0,372.2C178.6,370.7 176.9,366.8 175.0,364.0C173.1,361.2 169.9,355.0 169.7,355.3C169.5,355.6 172.8,362.7 174.0,366.0C175.2,369.3 177.0,372.7 177.2,375.0C177.4,377.3 176.9,378.4 175.3,379.7C173.7,381.0 170.8,382.3 167.8,382.6C164.8,382.9 160.8,382.9 157.5,381.6C154.2,380.3 150.6,377.6 148.1,375.0C145.6,372.4 143.3,369.1 142.5,365.7C141.7,362.3 142.2,357.2 143.4,354.4C144.7,351.6 147.3,350.2 150.0,348.8C152.7,347.4 157.2,346.9 159.4,346.0C161.6,345.1 162.5,345.6 163.1,343.2C163.7,340.8 162.3,334.6 163.1,331.9C163.9,329.2 165.8,328.8 167.8,327.2C169.8,325.6 174.7,323.9 175.3,322.5C175.9,321.1 172.2,320.1 171.6,318.8C171.0,317.6 171.1,316.2 171.6,315.0C172.1,313.8 173.0,312.2 174.4,311.6C175.8,311.0 177.2,312.3 180.0,311.6C182.8,310.9 187.6,308.6 191.3,307.5C195.1,306.4 198.1,305.5 202.5,304.7C206.9,303.9 214.4,304.0 217.5,302.8C220.6,301.6 221.8,300.0 221.0,297.5C220.2,295.0 215.5,291.1 213.0,288.0C210.5,284.9 207.9,281.8 206.0,279.0C204.1,276.2 203.0,272.6 201.5,271.0C200.0,269.4 198.8,269.7 196.8,269.6C194.8,269.5 191.8,270.8 189.6,270.5C187.4,270.2 185.5,269.8 183.4,267.9C181.3,266.0 178.2,262.5 177.1,258.9C176.0,255.3 176.5,249.4 177.1,246.4Z"/><path d="M483.5,228.8C487.0,228.3 492.9,228.8 496.0,230.0C499.1,231.2 500.6,233.5 502.2,236.2C503.9,239.0 504.3,242.9 506.0,246.2C507.7,249.6 510.9,253.1 512.2,256.2C513.6,259.4 514.7,262.1 514.2,265.0C513.8,267.9 512.0,272.3 509.8,273.8C507.5,275.2 504.1,275.2 501.0,273.8C497.9,272.3 494.5,267.7 491.0,265.0C487.5,262.3 482.5,260.0 479.8,257.5C477.0,255.0 476.0,252.9 474.8,250.0C473.5,247.1 472.2,242.9 472.2,240.0C472.2,237.1 472.9,234.4 474.8,232.5C476.6,230.6 480.0,229.2 483.5,228.8Z"/><ellipse cx="312.5" cy="110.75" rx="10" ry="10.75"/><ellipse cx="342.4" cy="120" rx="3.5" ry="7.5" transform="rotate(15 342.4 120)"/><ellipse cx="454.9" cy="147" rx="5" ry="3.8"/><ellipse cx="514.4" cy="180.4" rx="6.6" ry="5.9"/><ellipse cx="313.6" cy="153.4" rx="8.2" ry="10.4"/><ellipse cx="330.3" cy="147.8" rx="11.6" ry="11"/><ellipse cx="173.3" cy="155.7" rx="8.5" ry="3.3" transform="rotate(-40 173.3 155.7)"/><ellipse cx="247" cy="175.5" rx="3" ry="4.2"/><ellipse cx="155.6" cy="189.4" rx="3.5" ry="5.2" transform="rotate(30 155.6 189.4)"/><ellipse cx="158.6" cy="264.6" rx="10.6" ry="10.9"/><ellipse cx="128" cy="295.25" rx="10" ry="12.25"/><ellipse cx="224.4" cy="218.75" rx="10.6" ry="11.25"/><ellipse cx="242" cy="194.5" rx="5.2" ry="5.8"/><ellipse cx="248" cy="196.5" rx="6" ry="3.5"/><ellipse cx="324.75" cy="326" rx="7.75" ry="9.6"/><ellipse cx="447" cy="303.5" rx="3.5" ry="2" transform="rotate(30 447 303.5)"/><ellipse cx="269.5" cy="30" rx="17.5" ry="17.5"/><ellipse cx="339.5" cy="82" rx="16" ry="15"/><rect x="275.2" y="317" width="10.6" height="14" rx="4.5"/><rect x="344.6" y="325.8" width="9.7" height="9" rx="3.5"/></g>
<g clip-path="url(#blobclip)"><g fill="#132B43" opacity="0.045"><ellipse cx="170" cy="217" rx="9" ry="13"/><ellipse cx="179" cy="214" rx="8" ry="17"/><ellipse cx="196" cy="200" rx="16" ry="12.5" transform="rotate(-20 196 200)"/><ellipse cx="188" cy="220" rx="9" ry="9.5"/><ellipse cx="263.5" cy="209.5" rx="10.5" ry="7"/><ellipse cx="253" cy="221" rx="9.5" ry="11.7"/><ellipse cx="262" cy="57" rx="11.7" ry="13"/><ellipse cx="296" cy="71" rx="10" ry="6.5" transform="rotate(30 296 71)"/><ellipse cx="384" cy="182.5" rx="10.4" ry="7.5"/><ellipse cx="391" cy="172.5" rx="12" ry="9.5"/><ellipse cx="433" cy="182.5" rx="17" ry="13.5"/><ellipse cx="488" cy="168" rx="13" ry="12.7"/><ellipse cx="372" cy="207.5" rx="12" ry="15"/><ellipse cx="209" cy="322" rx="18" ry="14"/><ellipse cx="185" cy="345" rx="12" ry="18" transform="rotate(-20 185 345)"/><ellipse cx="215" cy="352" rx="10" ry="22" transform="rotate(15 215 352)"/><ellipse cx="240" cy="318" rx="12" ry="13"/><ellipse cx="160" cy="362" rx="14" ry="14"/><ellipse cx="200" cy="280" rx="15" ry="12"/><ellipse cx="232" cy="262" rx="18" ry="15"/><ellipse cx="250" cy="285" rx="14" ry="12"/><ellipse cx="345" cy="275" rx="20" ry="15"/><ellipse cx="360" cy="250" rx="12" ry="10"/><ellipse cx="380" cy="268" rx="12" ry="9"/><ellipse cx="398" cy="281" rx="16" ry="12"/><ellipse cx="382" cy="262" rx="10" ry="10"/><ellipse cx="405" cy="275" rx="12" ry="10"/><ellipse cx="205" cy="255" rx="12" ry="10"/><ellipse cx="245" cy="300" rx="12" ry="9"/><ellipse cx="354" cy="86" rx="8" ry="12"/><ellipse cx="222" cy="270" rx="20" ry="20"/><ellipse cx="237" cy="290" rx="19" ry="11"/><ellipse cx="330" cy="255" rx="12" ry="18"/></g></g>
<g fill="#fff"><path d="M388.0,192.4C388.0,192.4 388.2,196.2 388.5,197.3C388.8,198.4 389.8,198.7 389.8,198.7C389.8,198.7 395.4,194.6 397.9,192.9C400.4,191.2 402.4,189.8 405.0,188.4C407.6,187.0 413.5,184.4 413.5,184.4C413.5,184.4 410.6,183.3 409.5,182.1C408.4,180.9 406.8,177.2 406.8,177.2C406.8,177.2 405.6,181.0 404.1,183.0C402.6,185.0 399.8,187.8 397.9,189.3C396.0,190.8 394.1,191.5 392.5,192.0C390.9,192.5 388.0,192.4 388.0,192.4Z"/><path d="M451.0,196.5C451.7,195.7 455.8,193.0 458.0,192.0C460.2,191.0 463.3,190.2 464.0,190.5C464.7,190.8 463.7,192.9 462.0,194.0C460.3,195.1 455.8,196.6 454.0,197.0C452.2,197.4 450.3,197.3 451.0,196.5Z"/><path d="M231.5,289.5C232.1,288.8 237.9,288.8 238.5,289.5C239.1,290.2 236.2,294.0 235.0,294.0C233.8,294.0 230.9,290.2 231.5,289.5Z"/><path d="M226.0,307.0C226.3,306.2 231.3,305.3 232.0,306.0C232.7,306.7 231.0,310.8 230.0,311.0C229.0,311.2 225.7,307.8 226.0,307.0Z"/><path d="M365.0,254.0C364.7,253.0 366.0,253.2 367.0,254.0C368.0,254.8 370.7,258.0 371.0,259.0C371.3,260.0 370.0,260.8 369.0,260.0C368.0,259.2 365.3,255.0 365.0,254.0Z"/><path d="M365.5,226.8C365.5,226.8 368.6,223.4 368.6,223.4C368.6,223.4 369.4,224.8 369.4,224.8C369.4,224.8 366.6,227.3 366.6,227.3C366.6,227.3 365.5,226.8 365.5,226.8Z"/></g><defs>
<filter id="b6" x="-50%" y="-50%" width="200%" height="200%"><feGaussianBlur stdDeviation="6"/></filter>
<filter id="b4" x="-50%" y="-50%" width="200%" height="200%"><feGaussianBlur stdDeviation="4"/></filter>
<filter id="b3" x="-50%" y="-50%" width="200%" height="200%"><feGaussianBlur stdDeviation="3"/></filter>
</defs>
<g clip-path="url(#blobclip)"><g filter="url(#b4)"><ellipse cx="352" cy="238" rx="22" ry="7" transform="rotate(-30 352 238)" fill="#3A72A8" opacity="0.45"/><ellipse cx="262" cy="262" rx="14" ry="22" fill="#3A72A8" opacity="0.25"/><ellipse cx="325" cy="268" rx="14" ry="12" fill="#3A72A8" opacity="0.25"/></g></g>
<clipPath id="cr"><polygon points="250.1,243.6 256.9,242.1 260.4,238.9 258.8,234.9 261.6,232.2 266.0,230.6 269.5,228.2 273.5,227.0 277.4,229.4 282.2,228.6 286.1,226.2 286.9,223.1 290.1,219.9 295.0,218.3 300.2,217.2 305.4,217.7 309.6,219.8 313.2,223.5 315.3,227.6 317.4,232.8 319.5,237.0 323.1,240.6 328.3,243.2 332.5,245.3 336.7,245.9 339.5,247.5 340.8,251.0 334.6,251.6 331.5,255.8 333.0,259.9 332.7,262.0 328.5,265.5 324.2,270.5 315.7,274.0 305.8,274.7 298.8,277.5 290.3,282.0 283.2,282.5 276.1,280.4 273.3,274.7 269.0,269.8 263.4,264.8 262.0,259.1 257.7,254.9 250.7,249.2"/></clipPath>
<g clip-path="url(#cr)">
<rect x="240" y="210" width="110" height="80" fill="#4A8BC6"/>
<g filter="url(#b6)">
<ellipse cx="289" cy="248" rx="23" ry="28" transform="rotate(25 289 248)" fill="#2C5B88"/>
</g>
<g filter="url(#b4)">
<ellipse cx="297" cy="234" rx="13" ry="14" transform="rotate(20 297 234)" fill="#132B43"/>
<ellipse cx="282" cy="258" rx="8" ry="13" transform="rotate(25 282 258)" fill="#17324C"/>
<ellipse cx="288" cy="246" rx="8" ry="11" transform="rotate(30 288 246)" fill="#1A3853"/>
<ellipse cx="311" cy="258" rx="9" ry="8" fill="#4A8AC6" opacity="0.7"/>
</g>
</g>
<polygon points="250.1,243.6 256.9,242.1 260.4,238.9 258.8,234.9 261.6,232.2 266.0,230.6 269.5,228.2 273.5,227.0 277.4,229.4 282.2,228.6 286.1,226.2 286.9,223.1 290.1,219.9 295.0,218.3 300.2,217.2 305.4,217.7 309.6,219.8 313.2,223.5 315.3,227.6 317.4,232.8 319.5,237.0 323.1,240.6 328.3,243.2 332.5,245.3 336.7,245.9 339.5,247.5 340.8,251.0 334.6,251.6 331.5,255.8 333.0,259.9 332.7,262.0 328.5,265.5 324.2,270.5 315.7,274.0 305.8,274.7 298.8,277.5 290.3,282.0 283.2,282.5 276.1,280.4 273.3,274.7 269.0,269.8 263.4,264.8 262.0,259.1 257.7,254.9 250.7,249.2" fill="none" stroke="#FF0000" stroke-width="2.8" stroke-linejoin="round"/>
<polygon points="282.5,267.9 283.4,256.3 286.9,252.8 302.9,241.3 310.8,242.2 314.4,244.0 316.1,251.9 315.2,258.1 307.3,265.2 302.0,266.1 293.1,267.0" fill="none" stroke="#000" stroke-width="1"/>
<polygon points="299.0,262.0 300.0,258.5 303.0,256.5 306.0,254.5 309.5,254.2 311.0,256.5 309.5,259.7 306.9,261.8 304.3,263.6 302.2,261.2 299.6,262.8" fill="#FF0000"/>
<path d="M351.8,226.2 L356,222.5 L357.5,218.5 L361,217.5" fill="none" stroke="#FF0000" stroke-width="4.6" stroke-linecap="round" stroke-linejoin="round"/><circle cx="352.9" cy="225.3" r="0.9" fill="#56A8EA"/><circle cx="359.7" cy="219" r="0.9" fill="#56A8EA"/>
<polygon points="355.0,234.2 357.6,235.7 358.1,241.5 356.6,244.1 354.5,241.5 351.4,239.9 350.8,237.3 352.4,235.2" fill="#FF0000"/>
<circle cx="378.4" cy="216.5" r="2.6" fill="#FF0000"/>
<circle cx="345" cy="249.8" r="2" fill="#FF0000"/>
<circle cx="297.5" cy="269.6" r="3.6" fill="#FF8C00"/>
<rect x="95" y="7" width="449" height="1" fill="#000"/>
<rect x="95" y="7" width="1" height="429" fill="#000"/>
<rect x="543" y="7" width="2" height="429" fill="#000"/>
<rect x="95" y="434" width="450" height="2" fill="#000"/>
<rect x="91" y="44" width="4" height="1" fill="#333"/><text transform="translate(87.60,50.30) scale(0.92,1)" text-anchor="end" font-size="13.0" fill="#4D4D4D" stroke="#4D4D4D" stroke-width="0.25">15.2°S</text><rect x="91" y="100" width="4" height="1" fill="#333"/><text transform="translate(87.60,106.30) scale(0.92,1)" text-anchor="end" font-size="13.0" fill="#4D4D4D" stroke="#4D4D4D" stroke-width="0.25">15.4°S</text><rect x="91" y="155" width="4" height="1" fill="#333"/><text transform="translate(87.60,161.30) scale(0.92,1)" text-anchor="end" font-size="13.0" fill="#4D4D4D" stroke="#4D4D4D" stroke-width="0.25">15.6°S</text><rect x="91" y="211" width="4" height="1" fill="#333"/><text transform="translate(87.60,217.30) scale(0.92,1)" text-anchor="end" font-size="13.0" fill="#4D4D4D" stroke="#4D4D4D" stroke-width="0.25">15.8°S</text><rect x="91" y="267" width="4" height="1" fill="#333"/><text transform="translate(87.60,273.30) scale(0.92,1)" text-anchor="end" font-size="13.0" fill="#4D4D4D" stroke="#4D4D4D" stroke-width="0.25">16°S</text><rect x="91" y="322" width="4" height="1" fill="#333"/><text transform="translate(87.60,328.30) scale(0.92,1)" text-anchor="end" font-size="13.0" fill="#4D4D4D" stroke="#4D4D4D" stroke-width="0.25">16.2°S</text><rect x="91" y="378" width="4" height="1" fill="#333"/><text transform="translate(87.60,384.30) scale(0.92,1)" text-anchor="end" font-size="13.0" fill="#4D4D4D" stroke="#4D4D4D" stroke-width="0.25">16.4°S</text><rect x="91" y="434" width="4" height="1" fill="#333"/><text transform="translate(87.60,440.30) scale(0.92,1)" text-anchor="end" font-size="13.0" fill="#4D4D4D" stroke="#4D4D4D" stroke-width="0.25">16.6°S</text><rect x="116" y="436" width="1" height="3" fill="#333"/><text transform="translate(116.50,453.00) scale(0.92,1)" text-anchor="middle" font-size="13.0" fill="#4D4D4D" stroke="#4D4D4D" stroke-width="0.25">6.4°W</text><rect x="170" y="436" width="1" height="3" fill="#333"/><text transform="translate(170.50,453.00) scale(0.92,1)" text-anchor="middle" font-size="13.0" fill="#4D4D4D" stroke="#4D4D4D" stroke-width="0.25">6.2°W</text><rect x="223" y="436" width="1" height="3" fill="#333"/><text transform="translate(223.50,453.00) scale(0.92,1)" text-anchor="middle" font-size="13.0" fill="#4D4D4D" stroke="#4D4D4D" stroke-width="0.25">6°W</text><rect x="277" y="436" width="1" height="3" fill="#333"/><text transform="translate(277.50,453.00) scale(0.92,1)" text-anchor="middle" font-size="13.0" fill="#4D4D4D" stroke="#4D4D4D" stroke-width="0.25">5.8°W</text><rect x="331" y="436" width="1" height="3" fill="#333"/><text transform="translate(331.50,453.00) scale(0.92,1)" text-anchor="middle" font-size="13.0" fill="#4D4D4D" stroke="#4D4D4D" stroke-width="0.25">5.6°W</text><rect x="384" y="436" width="1" height="3" fill="#333"/><text transform="translate(384.50,453.00) scale(0.92,1)" text-anchor="middle" font-size="13.0" fill="#4D4D4D" stroke="#4D4D4D" stroke-width="0.25">5.4°W</text><rect x="438" y="436" width="1" height="3" fill="#333"/><text transform="translate(438.50,453.00) scale(0.92,1)" text-anchor="middle" font-size="13.0" fill="#4D4D4D" stroke="#4D4D4D" stroke-width="0.25">5.2°W</text><rect x="492" y="436" width="1" height="3" fill="#333"/><text transform="translate(492.50,453.00) scale(0.92,1)" text-anchor="middle" font-size="13.0" fill="#4D4D4D" stroke="#4D4D4D" stroke-width="0.25">5°W</text>
<text transform="translate(319.50,469.60) scale(0.96,1)" text-anchor="middle" font-size="15.4" fill="#000" stroke="#000" stroke-width="0.25">Longitude</text>
<text transform="translate(44.60,221.30) rotate(-90) scale(0.96,1)" text-anchor="middle" font-size="15.4" fill="#000" stroke="#000" stroke-width="0.25">Latitude</text>
<text transform="translate(566.50,166.80) scale(0.96,1)" font-size="15.4" fill="#000" stroke="#000" stroke-width="0.25">N animals</text><rect x="567" y="175" width="23" height="115" fill="url(#lg)"/><rect x="567" y="183" width="4.6" height="1" fill="#fff"/><rect x="585.4" y="183" width="4.6" height="1" fill="#fff"/><text transform="translate(597.80,188.60) scale(0.9,1)" font-size="13.3" fill="#000" stroke="#000" stroke-width="0.25">400</text><rect x="567" y="210" width="4.6" height="1" fill="#fff"/><rect x="585.4" y="210" width="4.6" height="1" fill="#fff"/><text transform="translate(597.80,215.60) scale(0.9,1)" font-size="13.3" fill="#000" stroke="#000" stroke-width="0.25">300</text><rect x="567" y="238" width="4.6" height="1" fill="#fff"/><rect x="585.4" y="238" width="4.6" height="1" fill="#fff"/><text transform="translate(597.80,243.60) scale(0.9,1)" font-size="13.3" fill="#000" stroke="#000" stroke-width="0.25">200</text><rect x="567" y="265" width="4.6" height="1" fill="#fff"/><rect x="585.4" y="265" width="4.6" height="1" fill="#fff"/><text transform="translate(597.80,270.60) scale(0.9,1)" font-size="13.3" fill="#000" stroke="#000" stroke-width="0.25">100</text>
</svg>
</body></html>
